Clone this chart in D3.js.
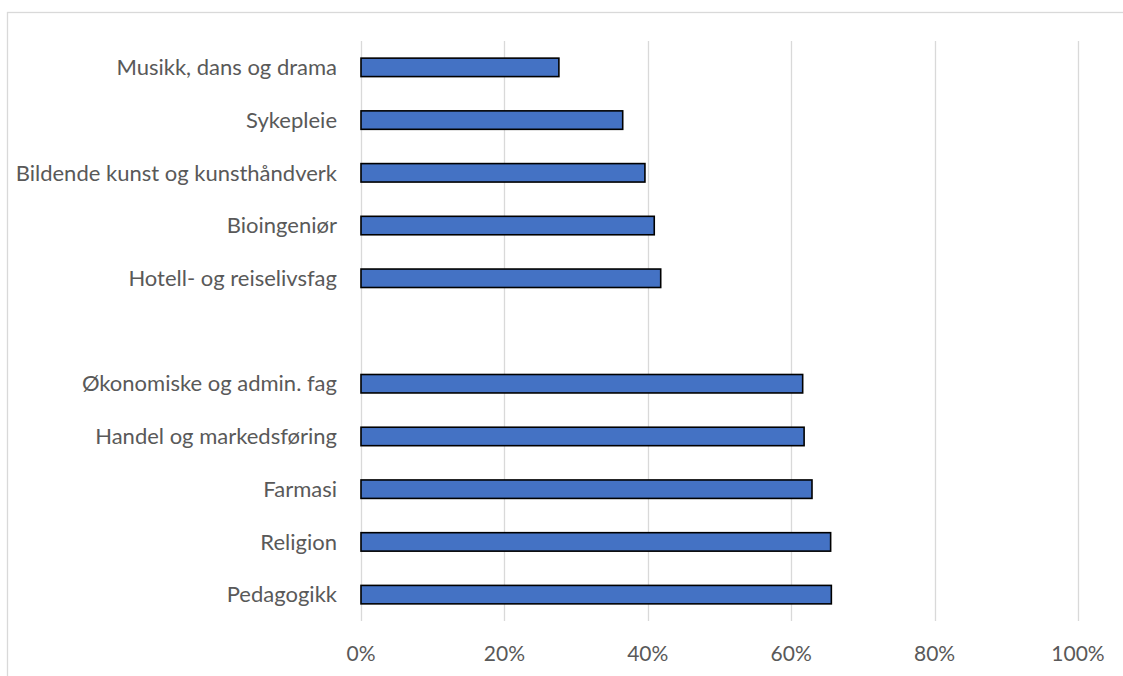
<!DOCTYPE html>
<html>
<head>
<meta charset="utf-8">
<script src="https://cdn.jsdelivr.net/npm/d3@7"></script>
<style>
  body { margin: 0; background: #fff; }
  svg { display: block; }
  .lbl { font-family: Lato, "Open Sans", sans-serif; fill: #595959; }
  .cat { font-size: 22px; }
  .tick { font-size: 21px; }
</style>
</head>
<body>
<div id="chart"></div>
<script>
// categories top to bottom, "" is the empty slot between the two groups
var categories = ["Musikk, dans og drama", "Sykepleie", "Bildende kunst og kunsthåndverk",
                  "Bioingeniør", "Hotell- og reiselivsfag", "",
                  "Økonomiske og admin. fag", "Handel og markedsføring", "Farmasi",
                  "Religion", "Pedagogikk"];
var values = [0.276, 0.365, 0.396, 0.409, 0.418, null,
              0.616, 0.618, 0.629, 0.655, 0.656];
var tickValues = [0, 0.2, 0.4, 0.6, 0.8, 1];

var width = 1123, height = 676;

var svg = d3.select("#chart").append("svg")
    .attr("width", width)
    .attr("height", height);

// chart frame (runs off the right and bottom edge)
svg.append("rect")
   .attr("x", 7.5).attr("y", 12.5)
   .attr("width", 1200).attr("height", 700)
   .attr("fill", "none")
   .attr("stroke", "#d9d9d9")
   .attr("stroke-width", 1.3);

var x = d3.scaleLinear()
    .domain([0, 1])
    .range([361, 1078]);

var y = d3.scaleBand()
    .domain(categories)
    .range([41, 621])
    .paddingInner(0.65)
    .paddingOuter(0.325);

// gridlines
svg.append("g")
   .selectAll("line")
   .data(tickValues)
   .enter().append("line")
   .attr("x1", function(d) { return Math.round(x(d)) + 0.5; })
   .attr("x2", function(d) { return Math.round(x(d)) + 0.5; })
   .attr("y1", 41)
   .attr("y2", 621)
   .attr("stroke", "#d9d9d9")
   .attr("stroke-width", 1.3);

// tick labels
svg.append("g")
   .selectAll("text")
   .data(tickValues)
   .enter().append("text")
   .attr("class", "lbl tick")
   .attr("x", function(d) { return x(d); })
   .attr("y", 661)
   .attr("text-anchor", "middle")
   .text(d3.format(".0%"));

// bars
var rows = categories.map(function(c, i) { return {name: c, value: values[i]}; });

svg.append("g")
   .selectAll("rect")
   .data(rows.filter(function(d) { return d.value !== null; }))
   .enter().append("rect")
   .attr("x", x(0))
   .attr("y", function(d) { return y(d.name); })
   .attr("width", function(d) { return x(d.value) - x(0); })
   .attr("height", y.bandwidth())
   .attr("fill", "#4472c4")
   .attr("stroke", "#000")
   .attr("stroke-width", 1.6);

// category labels
svg.append("g")
   .selectAll("text")
   .data(rows)
   .enter().append("text")
   .attr("class", "lbl cat")
   .attr("x", 337)
   .attr("y", function(d) { return y(d.name) + y.bandwidth() / 2; })
   .attr("dy", "0.35em")
   .attr("text-anchor", "end")
   .text(function(d) { return d.name; });
</script>
</body>
</html>
